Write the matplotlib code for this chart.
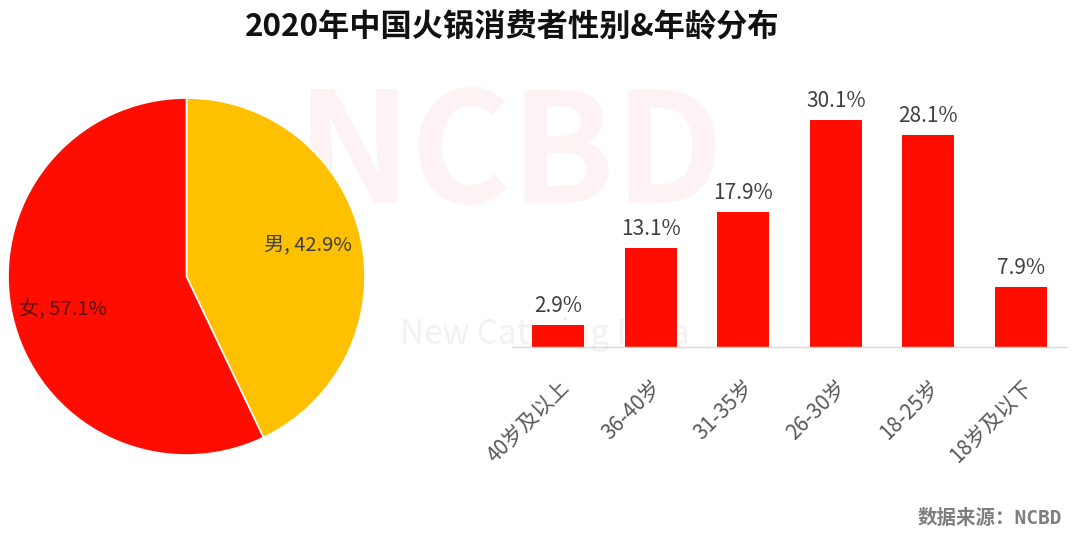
import matplotlib
matplotlib.use("Agg")
import matplotlib.pyplot as plt

plt.rcParams['font.family'] = ['Noto Sans CJK SC', 'DejaVu Sans']

# gender split
gender_labels = ["男", "女"]
gender_values = [42.9, 57.1]
gender_colors = ["#FFC000", "#FF0D00"]

# age groups
age_groups = ["40岁及以上", "36-40岁", "31-35岁", "26-30岁", "18-25岁", "18岁及以下"]
age_values = [2.9, 13.1, 17.9, 30.1, 28.1, 7.9]

W, H = 1080, 533
fig = plt.figure(figsize=(W / 100, H / 100), dpi=100)

def px_axes(left, top, right, bottom):
    return fig.add_axes([left / W, 1 - bottom / H, (right - left) / W, (bottom - top) / H])

# faint watermark
fig.text(510 / W, 1 - 158 / H, "NCBD", fontsize=110, fontweight='bold', color="#FDF3F4",
         ha='center', va='center', zorder=-5)
fig.text(400 / W, 1 - 335 / H, "New Catering Data", fontsize=24, color="#F2F2F2",
         ha='left', va='center', zorder=-5)

# title
fig.text(512 / W, 1 - 28 / H, "2020年中国火锅消费者性别&年龄分布", fontsize=22.5,
         fontweight='bold', color="#111111", ha='center', va='center')

# pie
ax1 = px_axes(8, 98, 365, 455)
ax1.set_facecolor('none')
wedges, _ = ax1.pie(gender_values, colors=gender_colors, startangle=90, counterclock=False,
                    wedgeprops=dict(edgecolor='white', linewidth=1.2))
ax1.set_xlim(-1, 1)
ax1.set_ylim(-1, 1)
ax1.set_aspect('equal')
ax1.text(0.68, 0.18, f"{gender_labels[0]}, {gender_values[0]}%", fontsize=14.5,
         color="#404040", ha='center', va='center')
ax1.text(-0.69, -0.18, f"{gender_labels[1]}, {gender_values[1]}%", fontsize=14.5,
         color="#5A1010", ha='center', va='center')

# bars
ax2 = px_axes(512, 83, 1067, 347)
ax2.set_facecolor('none')
x = range(len(age_groups))
bars = ax2.bar(x, age_values, width=0.56, color="#FF0D00", zorder=2)
ax2.set_xlim(-0.5, len(age_groups) - 0.5)
ax2.set_ylim(0, 35)
for b, v in zip(bars, age_values):
    ax2.annotate(f"{v}%", (b.get_x() + b.get_width() / 2, v), xytext=(0, 6),
                 textcoords='offset points', ha='center', va='bottom',
                 fontsize=15, color="#404040")
ax2.set_xticks(list(x))
ax2.set_xticklabels(age_groups, rotation=45, ha='right', rotation_mode='anchor',
                    fontsize=15, color="#595959")
ax2.tick_params(axis='x', length=0, pad=21)
ax2.set_yticks([])
for s in ['top', 'right', 'left']:
    ax2.spines[s].set_visible(False)
ax2.spines['bottom'].set_color("#D9D9D9")
ax2.spines['bottom'].set_linewidth(1)

# source
fig.text(1062 / W, 1 - 518 / H, "数据来源：NCBD", fontsize=14, fontweight='bold',
         family=['DejaVu Sans Mono', 'Noto Sans CJK SC'],
         color="#7F7F7F", ha='right', va='center')

fig.savefig("out.png", dpi=100)
